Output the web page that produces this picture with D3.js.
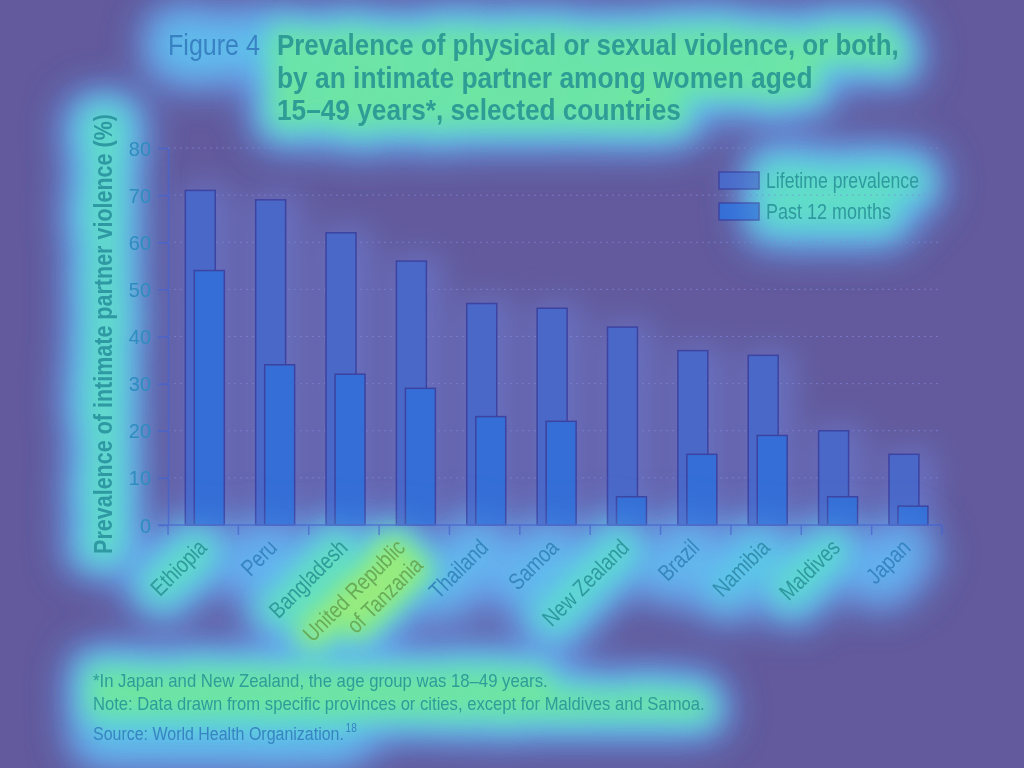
<!DOCTYPE html>
<html><head><meta charset="utf-8">
<script src="https://cdn.jsdelivr.net/npm/d3@7"></script>
<style>
body{margin:0;background:#625a9c;}
svg{display:block;}
text{font-family:"Liberation Sans","Arial","Helvetica",sans-serif;}
</style></head><body>
<svg id="chart" width="1024" height="768"></svg>
<script>
// ---------- data ----------
const countries = ["Ethiopia","Peru","Bangladesh","United Republic\nof Tanzania","Thailand","Samoa","New Zealand","Brazil","Namibia","Maldives","Japan"];
const lifetime = [71,69,62,56,47,46,42,37,36,20,15];
const past12   = [54,34,32,29,23,22,6,15,19,6,4];
const seriesNames = ["Lifetime prevalence","Past 12 months"];
const yTicks = [0,10,20,30,40,50,60,70,80];
const figureLabel = "Figure 4";
const titleLines = ["Prevalence of physical or sexual violence, or both,","by an intimate partner among women aged","15\u201349 years*, selected countries"];
const yTitle = "Prevalence of intimate partner violence (%)";
const footnotes = ["*In Japan and New Zealand, the age group was 18\u201349 years.","Note: Data drawn from specific provinces or cities, except for Maldives and Samoa."];
const sourceText = "Source: World Health Organization.";
const sourceRef = "18";

// ---------- styling (heat-map look) ----------
const labelGlow = [2.3,1.3,2.4,3.4,1.4,1.4,2.2,1.4,1.7,2.2,1.3];
const glowPasses = [
  {color:"#6aa6f6", sw:54, blur:20},
  {color:"#58d8e2", sw:28, blur:15},
  {color:"#78ea8c", sw:16, blur:12},
  {color:"#d8f060", sw:8,  blur:12}
];
const textColor = d3.scaleLinear().domain([1,2,2.6,3.3]).range(["#3a7ccc","#2e98a6","#2e9e92","#68ac58"]).clamp(true);
const lifeFill = "#4a68c8", pastFill = "#346ed6", barStroke = "#3d43a0";
const axisColor = "#4a62c8";
const condense = 0.82;

const svg = d3.select("#chart");
const W = 1024, H = 768;
svg.append("rect").attr("width",W).attr("height",H).attr("fill","#625a9c");

const defs = svg.append("defs");
glowPasses.forEach((p,i)=>{
  defs.append("filter").attr("id","blur"+i).attr("filterUnits","userSpaceOnUse")
    .attr("x",0).attr("y",0).attr("width",W).attr("height",H)
    .append("feGaussianBlur").attr("stdDeviation",p.blur);
});
defs.append("filter").attr("id","barblur").attr("filterUnits","userSpaceOnUse")
  .attr("x",0).attr("y",0).attr("width",W).attr("height",H)
  .append("feGaussianBlur").attr("stdDeviation",16);

const glowUnder = svg.append("g");
const plotG = svg.append("g");
const glowOver = svg.append("g").attr("opacity",0.35);
const textG = svg.append("g");

// ---------- scales ----------
const plot = {left:168, right:942, top:148, bottom:525};
const x = d3.scaleBand().domain(d3.range(countries.length)).range([plot.left, plot.right]).padding(0);
const y = d3.scaleLinear().domain([0,80]).range([plot.bottom, plot.top]);
const bw = x.bandwidth();
const lifeOff = 0.246*bw, pastOff = 0.374*bw, barW = 0.426*bw;

// gridlines
plotG.append("g").selectAll("line").data(yTicks.filter(d=>d>0)).join("line")
  .attr("x1",plot.left).attr("x2",plot.right).attr("y1",d=>y(d)).attr("y2",d=>y(d))
  .attr("stroke","#7d80d4").attr("stroke-width",1).attr("stroke-dasharray","2,4").attr("opacity",0.8);

// bar glow
const barGlow = glowUnder.append("g").attr("filter","url(#barblur)").attr("opacity",0.5);
barGlow.selectAll("rect.l").data(lifetime).join("rect")
  .attr("x",(d,i)=>x(i)+lifeOff-4).attr("y",d=>y(d)-6).attr("width",barW+20).attr("height",d=>y(0)-y(d)+6).attr("fill","#7088e6");

// bars
plotG.append("g").selectAll("rect").data(lifetime).join("rect")
  .attr("x",(d,i)=>x(i)+lifeOff).attr("y",d=>y(d)).attr("width",barW).attr("height",d=>y(0)-y(d))
  .attr("fill",lifeFill).attr("stroke",barStroke).attr("stroke-width",1.5);
plotG.append("g").selectAll("rect").data(past12).join("rect")
  .attr("x",(d,i)=>x(i)+pastOff).attr("y",d=>y(d)).attr("width",barW).attr("height",d=>y(0)-y(d))
  .attr("fill",pastFill).attr("stroke",barStroke).attr("stroke-width",1.5);

// y axis
const yAxis = plotG.append("g").attr("transform",`translate(${plot.left},0)`)
  .call(d3.axisLeft(y).tickValues(yTicks).tickSize(10).tickSizeOuter(0).tickFormat(""));
yAxis.selectAll("path,line").attr("stroke",axisColor).attr("stroke-width",1.5);
// x axis
const xg = plotG.append("g");
xg.append("line").attr("x1",plot.left-10).attr("x2",plot.right).attr("y1",y(0)).attr("y2",y(0))
  .attr("stroke",axisColor).attr("stroke-width",1.5);
xg.selectAll("line.t").data(d3.range(countries.length+1)).join("line").attr("class","t")
  .attr("x1",i=>plot.left+i*bw).attr("x2",i=>plot.left+i*bw).attr("y1",y(0)).attr("y2",y(0)+10)
  .attr("stroke",axisColor).attr("stroke-width",1.5);

// ---------- texts ----------
const glowTexts = [];
function fit(t, target){ const len = t.node().getComputedTextLength(); return target/len; }

// y tick labels
textG.append("g").selectAll("text").data(yTicks).join("text")
  .attr("transform",d=>`translate(151,${y(d)+7.5}) scale(0.95,1)`)
  .attr("text-anchor","end").attr("font-size",21).attr("fill","#2f8cbf").text(d=>d);

// x labels
countries.forEach((c,i)=>{
  const lines = c.split("\n");
  const cx = x(i)+bw/2;
  const shift = lines.length>1 ? "translate(-9,-9)" : "";
  const t = textG.append("text")
    .attr("transform",`translate(${cx+5},549) rotate(-45) ${shift} scale(${condense},1)`)
    .attr("text-anchor","end").attr("font-size",23).attr("fill",textColor(labelGlow[i]));
  lines.forEach((l,k)=>t.append("tspan").attr("x",0).attr("dy",k===0?0:25).text(l));
  glowTexts.push({node:t.node(), level:labelGlow[i]});
});

// title
const fig = textG.append("text").attr("font-size",29).attr("fill",textColor(1.2)).text(figureLabel);
fig.attr("transform",`translate(168,55) scale(${fit(fig,92)},1)`);
glowTexts.push({node:fig.node(), level:1.5});
const titleTargets = [622,536,404];
titleLines.forEach((l,i)=>{
  const t = textG.append("text").attr("font-size",29).attr("font-weight","bold").attr("fill",textColor(2.5)).text(l);
  t.attr("transform",`translate(277,${55+i*32.5}) scale(${fit(t,titleTargets[i])},1)`);
  glowTexts.push({node:t.node(), level:2.7});
});

// y title
const yt = textG.append("text").attr("font-size",26).attr("font-weight","bold").attr("text-anchor","middle")
  .attr("fill",textColor(2.1)).text(yTitle);
yt.attr("transform",`translate(112,334) rotate(-90) scale(${fit(yt,440)},1)`);
glowTexts.push({node:yt.node(), level:2.3});

// legend
const legTargets = [153,125];
seriesNames.forEach((s,i)=>{
  plotG.append("rect").attr("x",719).attr("y",172+i*31).attr("width",40).attr("height",17)
    .attr("fill",i===0?lifeFill:pastFill).attr("stroke",barStroke).attr("stroke-width",1.5);
  const t = textG.append("text").attr("font-size",22).attr("fill",textColor(2.2)).text(s);
  t.attr("transform",`translate(766,${188+i*31}) scale(${fit(t,legTargets[i])},1)`);
  glowTexts.push({node:t.node(), level:2.3});
});

// footnotes
const fnTargets = [455,612];
footnotes.forEach((f,i)=>{
  const t = textG.append("text").attr("font-size",19).attr("fill",textColor(2.4)).text(f);
  t.attr("transform",`translate(93,${687+i*22.5}) scale(${fit(t,fnTargets[i])},1)`);
  glowTexts.push({node:t.node(), level:2.7});
});
const src = textG.append("text").attr("font-size",19).attr("fill",textColor(1.3));
src.append("tspan").text(sourceText);
const s = fit(src,251);
src.append("tspan").attr("font-size",12).attr("dy",-8).attr("dx",2).text(sourceRef);
src.attr("transform",`translate(93,740) scale(${s},1)`);
glowTexts.push({node:src.node(), level:1.5});

// ---------- glow layers ----------
function buildGlow(parent){
  glowPasses.forEach((p,k)=>{
    const g = parent.append("g").attr("filter",`url(#blur${k})`);
    glowTexts.forEach(gt=>{
      const op = Math.max(0, Math.min(1, gt.level - k));
      if(op<=0) return;
      const cl = gt.node.cloneNode(true);
      d3.select(cl).attr("fill",p.color).attr("stroke",p.color).attr("stroke-width",p.sw)
        .attr("stroke-linejoin","round").attr("stroke-linecap","round").attr("opacity",op);
      g.node().appendChild(cl);
    });
  });
}
buildGlow(glowUnder);
buildGlow(glowOver);
</script>
</body></html>
